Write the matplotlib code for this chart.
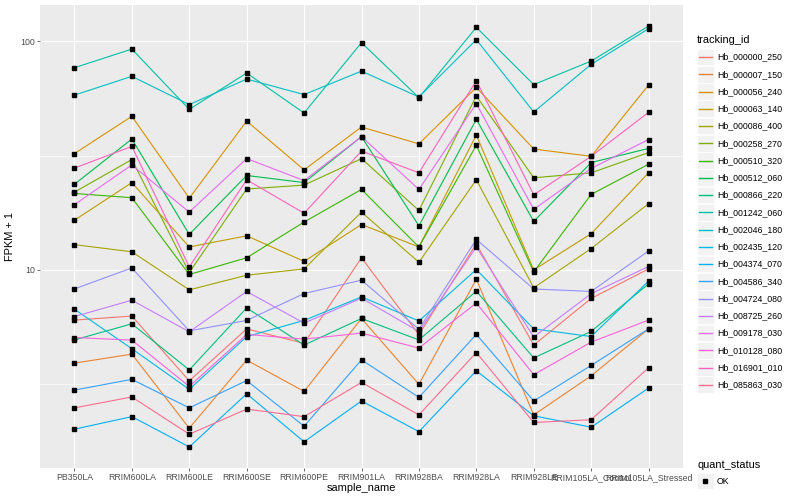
import numpy as np
import matplotlib
matplotlib.use("Agg")
import matplotlib.pyplot as plt
from matplotlib.patches import Rectangle
from matplotlib.lines import Line2D
from matplotlib.ticker import FixedLocator, NullFormatter

plt.rcParams['font.family'] = ['Liberation Sans', 'DejaVu Sans']

samples = ["PB350LA", "RRIM600LA", "RRIM600LE", "RRIM600SE", "RRIM600PE", "RRIM901LA",
           "RRIM928BA", "RRIM928LA", "RRIM928LE", "RRIM105LA_Control", "RRIM105LA_Stressed"]

tracking_ids = ["Hb_000000_250", "Hb_000007_150", "Hb_000056_240", "Hb_000063_140",
                "Hb_000086_400", "Hb_000258_270", "Hb_000510_320", "Hb_000512_060",
                "Hb_000866_220", "Hb_001242_060", "Hb_002046_180", "Hb_002435_120",
                "Hb_004374_070", "Hb_004586_340", "Hb_004724_080", "Hb_008725_260",
                "Hb_009178_030", "Hb_010128_080", "Hb_016901_010", "Hb_085863_030"]

# ggplot hue palette, 20 levels
colors = ["#F8766D", "#EA8331", "#D89000", "#C09B00", "#A3A500", "#7CAE00", "#39B600",
          "#00BB4E", "#00BF7D", "#00C1A3", "#00BFC4", "#00BAE0", "#00B0F6", "#35A2FF",
          "#9590FF", "#C77CFF", "#E76BF3", "#FA62DB", "#FF62BC", "#FF6C91"]

# FPKM + 1 per sample
hb_000000_250 = [6.03, 6.28, 3.27, 5.52, 4.77, 11.3, 5.21, 13.0, 4.69, 7.50, 10.1]
hb_000007_150 = [3.91, 4.28, 2.03, 4.03, 2.94, 6.13, 3.16, 9.1, 2.32, 3.44, 5.52]
hb_000056_240 = [32.3, 47.0, 20.6, 44.8, 27.4, 42.2, 35.6, 62.9, 33.8, 31.4, 64.4]
hb_000063_140 = [16.5, 24.1, 12.6, 14.1, 10.9, 15.8, 12.6, 38.9, 10.0, 14.4, 26.6]
hb_000086_400 = [12.9, 12.0, 8.18, 9.48, 10.1, 17.9, 10.8, 24.8, 8.35, 12.4, 19.5]
hb_000258_270 = [21.9, 30.4, 9.74, 22.6, 23.5, 30.7, 18.2, 57.7, 25.3, 26.6, 32.6]
hb_000510_320 = [21.6, 20.7, 9.55, 11.3, 16.2, 22.5, 12.6, 35.1, 9.8, 21.4, 29.0]
hb_000512_060 = [23.7, 37.4, 14.3, 25.9, 24.1, 38.3, 15.6, 45.6, 16.3, 29.5, 34.0]
hb_000866_220 = [4.94, 5.81, 3.65, 6.82, 4.69, 6.13, 4.94, 8.07, 4.12, 5.38, 8.69]
hb_001242_060 = [76.7, 92.5, 50.4, 72.7, 48.6, 98.7, 56.7, 115.2, 64.7, 82.0, 116.7]
hb_002046_180 = [58.2, 70.3, 52.9, 68.4, 58.5, 74.1, 57.1, 101.7, 49.1, 79.3, 113.6]
hb_002435_120 = [6.73, 4.52, 3.00, 5.11, 6.01, 7.62, 5.98, 10.04, 5.52, 5.11, 8.93]
hb_004374_070 = [2.01, 2.28, 1.68, 2.87, 1.77, 2.67, 1.96, 3.62, 2.30, 2.05, 3.04]
hb_004586_340 = [2.98, 3.32, 2.49, 3.28, 2.07, 4.04, 2.77, 5.22, 2.67, 3.82, 5.52]
hb_004724_080 = [8.26, 10.2, 5.41, 6.01, 7.88, 9.02, 5.50, 13.6, 8.25, 8.05, 12.1]
hb_008725_260 = [6.25, 7.37, 5.36, 8.05, 5.85, 7.52, 5.38, 12.6, 5.09, 7.87, 10.35]
hb_009178_030 = [19.3, 28.8, 17.9, 30.7, 24.6, 38.3, 22.5, 53.4, 18.4, 27.8, 37.2]
hb_010128_080 = [5.06, 4.93, 3.09, 5.22, 4.98, 5.29, 4.55, 7.17, 3.48, 4.83, 6.03]
hb_016901_010 = [27.9, 34.7, 10.3, 24.8, 17.7, 33.1, 26.6, 67.3, 21.3, 31.4, 48.9]
hb_085863_030 = [2.49, 2.78, 1.91, 2.46, 2.28, 3.22, 2.32, 4.35, 2.15, 2.21, 3.73]

series = [hb_000000_250, hb_000007_150, hb_000056_240, hb_000063_140, hb_000086_400,
          hb_000258_270, hb_000510_320, hb_000512_060, hb_000866_220, hb_001242_060,
          hb_002046_180, hb_002435_120, hb_004374_070, hb_004586_340, hb_004724_080,
          hb_008725_260, hb_009178_030, hb_010128_080, hb_016901_010, hb_085863_030]

W, H = 800, 500
fig = plt.figure(figsize=(W / 100, H / 100), dpi=100)
ax = fig.add_axes([40 / W, 32 / H, 643 / W, 463 / H])
ax.set_facecolor("#EBEBEB")
for s in ax.spines.values():
    s.set_visible(False)

x = np.arange(1, len(samples) + 1)
for vals, c in zip(series, colors):
    ax.plot(x, vals, color=c, lw=0.8, zorder=2)
for vals in series:
    ax.plot(x, vals, 's', color='black', ms=2.8, zorder=3)

ax.set_yscale("log")
allv = np.log10(np.concatenate([np.array(v) for v in series]))
lo, hi = allv.min(), allv.max()
pad = 0.05 * (hi - lo)
ax.set_ylim(10 ** (lo - pad), 10 ** (hi + pad))
ax.set_xlim(0.4, len(samples) + 0.6)

ax.set_yticks([10, 100])
ax.set_yticklabels(["10", "100"])
ax.yaxis.set_minor_locator(FixedLocator([10 ** 0.5, 10 ** 1.5]))
ax.yaxis.set_minor_formatter(NullFormatter())
ax.set_xticks(x)
ax.set_xticklabels(samples)

ax.grid(which='major', color='white', lw=0.8)
ax.grid(which='minor', axis='y', color='white', lw=0.4)
ax.set_axisbelow(True)
ax.tick_params(which='major', length=2, width=0.5, color='#333333',
               labelcolor='#4D4D4D', labelsize=6.3, pad=1.6)
ax.tick_params(which='minor', length=0)

ax.set_xlabel("sample_name", fontsize=7.9, labelpad=1)
ax.set_ylabel("FPKM + 1", fontsize=7.9, labelpad=4)


def fx(px):
    return px / W


def fy(py):
    return 1 - py / H


# legend: tracking_id
fig.text(fx(697), fy(40), "tracking_id", fontsize=7.9, va='center', ha='left')
for i, (name, c) in enumerate(zip(tracking_ids, colors)):
    yc = 57 + i * 17.25
    fig.add_artist(Rectangle((fx(697), fy(yc + 8.3)), 16.6 / W, 16.6 / H,
                             transform=fig.transFigure, facecolor='#F2F2F2',
                             edgecolor='white', lw=0.5, zorder=1))
    fig.add_artist(Line2D([fx(699), fx(711.5)], [fy(yc), fy(yc)],
                          transform=fig.transFigure, color=c, lw=1.0, zorder=3))
    fig.text(fx(717), fy(yc), name, fontsize=6.3, va='center', ha='left')

# legend: quant_status
fig.text(fx(697), fy(465), "quant_status", fontsize=7.9, va='center', ha='left')
fig.add_artist(Rectangle((fx(697), fy(481 + 8.3)), 16.6 / W, 16.6 / H,
                         transform=fig.transFigure, facecolor='#F2F2F2',
                         edgecolor='white', lw=0.5, zorder=1))
fig.add_artist(Line2D([fx(705.3)], [fy(481)], transform=fig.transFigure,
                      marker='s', color='black', ms=2.8, ls='none', zorder=3))
fig.text(fx(717), fy(481), "OK", fontsize=6.3, va='center', ha='left')

fig.savefig("out.png", dpi=100)
